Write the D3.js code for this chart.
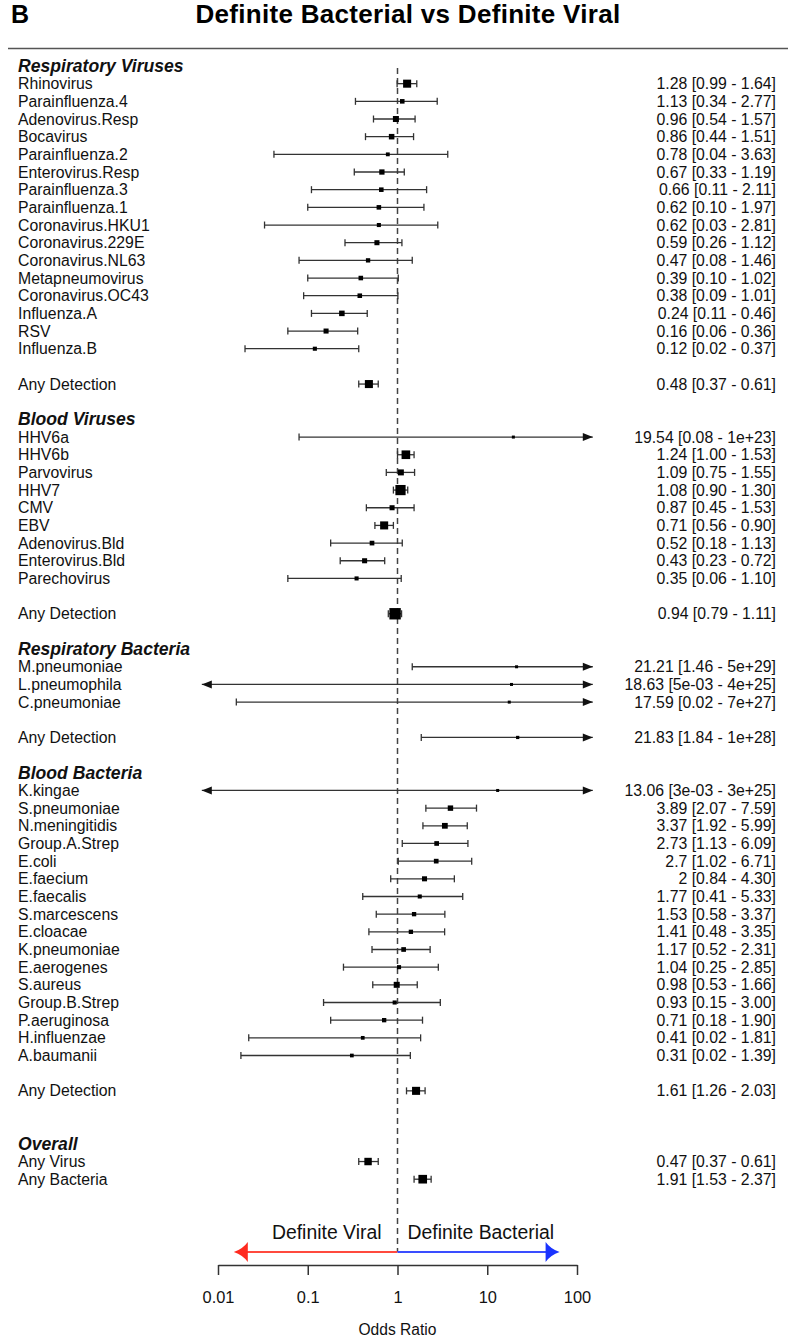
<!DOCTYPE html>
<html>
<head>
<meta charset="utf-8">
<script src="https://cdn.jsdelivr.net/npm/d3@7"></script>
<style>
  body { margin: 0; background: #fff; }
  svg { display: block; font-family: "Liberation Sans", Arial, Helvetica, sans-serif; }
</style>
</head>
<body>
<script>
// Section headers, in plotting order
const groupNames = ["Respiratory Viruses", "Blood Viruses", "Respiratory Bacteria", "Blood Bacteria", "Overall"];

// One entry per plotted row
const rowLabels = [
  "Rhinovirus", "Parainfluenza.4", "Adenovirus.Resp", "Bocavirus", "Parainfluenza.2", "Enterovirus.Resp",
  "Parainfluenza.3", "Parainfluenza.1", "Coronavirus.HKU1", "Coronavirus.229E", "Coronavirus.NL63",
  "Metapneumovirus", "Coronavirus.OC43", "Influenza.A", "RSV", "Influenza.B", "Any Detection",
  "HHV6a", "HHV6b", "Parvovirus", "HHV7", "CMV", "EBV", "Adenovirus.Bld", "Enterovirus.Bld", "Parechovirus", "Any Detection",
  "M.pneumoniae", "L.pneumophila", "C.pneumoniae", "Any Detection",
  "K.kingae", "S.pneumoniae", "N.meningitidis", "Group.A.Strep", "E.coli", "E.faecium", "E.faecalis",
  "S.marcescens", "E.cloacae", "K.pneumoniae", "E.aerogenes", "S.aureus", "Group.B.Strep", "P.aeruginosa",
  "H.influenzae", "A.baumanii", "Any Detection",
  "Any Virus", "Any Bacteria"
];
const rowGroup = [
  0,0,0,0,0,0,0,0,0,0,0,0,0,0,0,0,0,
  1,1,1,1,1,1,1,1,1,1,
  2,2,2,2,
  3,3,3,3,3,3,3,3,3,3,3,3,3,3,3,3,3,
  4,4
];
const oddsRatio = [
  1.28, 1.13, 0.96, 0.86, 0.78, 0.67, 0.66, 0.62, 0.62, 0.59, 0.47, 0.39, 0.38, 0.24, 0.16, 0.12, 0.48,
  19.54, 1.24, 1.09, 1.08, 0.87, 0.71, 0.52, 0.43, 0.35, 0.94,
  21.21, 18.63, 17.59, 21.83,
  13.06, 3.89, 3.37, 2.73, 2.7, 2, 1.77, 1.53, 1.41, 1.17, 1.04, 0.98, 0.93, 0.71, 0.41, 0.31, 1.61,
  0.47, 1.91
];
const ciLower = [
  0.99, 0.34, 0.54, 0.44, 0.042, 0.33, 0.11, 0.10, 0.033, 0.26, 0.08, 0.10, 0.09, 0.11, 0.06, 0.02, 0.37,
  0.08, 1.00, 0.75, 0.90, 0.45, 0.56, 0.18, 0.23, 0.06, 0.79,
  1.46, 5e-3, 0.016, 1.84,
  3e-3, 2.07, 1.92, 1.13, 1.02, 0.84, 0.41, 0.58, 0.48, 0.52, 0.25, 0.53, 0.15, 0.18, 0.022, 0.018, 1.26,
  0.37, 1.53
];
const ciUpper = [
  1.64, 2.77, 1.57, 1.51, 3.63, 1.19, 2.11, 1.97, 2.81, 1.12, 1.46, 1.02, 1.01, 0.46, 0.36, 0.37, 0.61,
  1e23, 1.53, 1.55, 1.30, 1.53, 0.90, 1.13, 0.72, 1.10, 1.11,
  5e29, 4e25, 7e27, 1e28,
  3e25, 7.59, 5.99, 6.09, 6.71, 4.30, 5.33, 3.37, 3.35, 2.31, 2.85, 1.66, 3.00, 1.90, 1.81, 1.39, 2.03,
  0.61, 2.37
];
const ciText = [
  "1.28 [0.99 - 1.64]", "1.13 [0.34 - 2.77]", "0.96 [0.54 - 1.57]", "0.86 [0.44 - 1.51]", "0.78 [0.04 - 3.63]",
  "0.67 [0.33 - 1.19]", "0.66 [0.11 - 2.11]", "0.62 [0.10 - 1.97]", "0.62 [0.03 - 2.81]", "0.59 [0.26 - 1.12]",
  "0.47 [0.08 - 1.46]", "0.39 [0.10 - 1.02]", "0.38 [0.09 - 1.01]", "0.24 [0.11 - 0.46]", "0.16 [0.06 - 0.36]",
  "0.12 [0.02 - 0.37]", "0.48 [0.37 - 0.61]",
  "19.54 [0.08 - 1e+23]", "1.24 [1.00 - 1.53]", "1.09 [0.75 - 1.55]", "1.08 [0.90 - 1.30]", "0.87 [0.45 - 1.53]",
  "0.71 [0.56 - 0.90]", "0.52 [0.18 - 1.13]", "0.43 [0.23 - 0.72]", "0.35 [0.06 - 1.10]", "0.94 [0.79 - 1.11]",
  "21.21 [1.46 - 5e+29]", "18.63 [5e-03 - 4e+25]", "17.59 [0.02 - 7e+27]", "21.83 [1.84 - 1e+28]",
  "13.06 [3e-03 - 3e+25]", "3.89 [2.07 - 7.59]", "3.37 [1.92 - 5.99]", "2.73 [1.13 - 6.09]", "2.7 [1.02 - 6.71]",
  "2 [0.84 - 4.30]", "1.77 [0.41 - 5.33]", "1.53 [0.58 - 3.37]", "1.41 [0.48 - 3.35]", "1.17 [0.52 - 2.31]",
  "1.04 [0.25 - 2.85]", "0.98 [0.53 - 1.66]", "0.93 [0.15 - 3.00]", "0.71 [0.18 - 1.90]", "0.41 [0.02 - 1.81]",
  "0.31 [0.02 - 1.39]", "1.61 [1.26 - 2.03]",
  "0.47 [0.37 - 0.61]", "1.91 [1.53 - 2.37]"
];
// relative box weight (precision)
const boxWeight = [
  0.67, 0.38, 0.50, 0.46, 0.32, 0.44, 0.38, 0.38, 0.34, 0.42, 0.36, 0.38, 0.38, 0.46, 0.42, 0.34, 0.67,
  0.25, 0.72, 0.50, 0.85, 0.42, 0.67, 0.39, 0.42, 0.34, 0.95,
  0.25, 0.25, 0.25, 0.27,
  0.25, 0.45, 0.48, 0.39, 0.39, 0.42, 0.34, 0.36, 0.36, 0.39, 0.34, 0.50, 0.34, 0.36, 0.31, 0.31, 0.67,
  0.62, 0.72
];

// plotting limits (beyond these the CI gets an arrow)
const clipLo = 0.0066, clipHi = 150;
const axisTicks = [0.01, 0.1, 1, 10, 100];
const favourLeft = 0.015, favourRight = 64;

const W = 793, H = 1342;
const svg = d3.select("body").append("svg").attr("width", W).attr("height", H);

const x = d3.scaleLog().domain([0.01, 100]).range([218, 577]);
const box = d3.scaleLinear().domain([0, 1]).range([0, 12]);

// lay out rows: header, items, gap before "Any Detection", gaps between groups
const rows = [];
let r = 0, prev = -1;
rowLabels.forEach((lab, i) => {
  const g = rowGroup[i];
  if (g !== prev) {
    if (prev >= 0) r += groupNames[g] === "Overall" ? 3 : 2;
    rows.push({ header: true, label: groupNames[g], r });
    prev = g;
    r += 1;
  } else {
    r += lab === "Any Detection" ? 2 : 1;
  }
  rows.push({ header: false, label: lab, r, or: oddsRatio[i], lo: ciLower[i], hi: ciUpper[i],
              txt: ciText[i], w: boxWeight[i] });
});
const y = d3.scaleLinear().domain([0, 63]).range([66, 1179.2]);

// title
svg.append("text").attr("x", 11).attr("y", 23)
  .style("font-size", "25px").style("font-weight", "bold").text("B");
svg.append("text").attr("x", 408).attr("y", 23).attr("text-anchor", "middle")
  .style("font-size", "26px").style("font-weight", "bold").style("letter-spacing", "0.3px")
  .text("Definite Bacterial vs Definite Viral");
svg.append("line").attr("x1", 8).attr("x2", 788).attr("y1", 48.5).attr("y2", 48.5)
  .attr("stroke", "#555").attr("stroke-width", 1.5);

// reference line at OR = 1
svg.append("line").attr("x1", x(1)).attr("x2", x(1)).attr("y1", 68).attr("y2", 1252)
  .attr("stroke", "#444").attr("stroke-width", 1.5).attr("stroke-dasharray", "6,4");

// labels
svg.selectAll(".lab").data(rows).enter().append("text")
  .attr("x", 18).attr("y", d => y(d.r) + (d.header ? 6 : 5.6))
  .style("font-size", d => d.header ? "17.6px" : "15.8px")
  .style("font-weight", d => d.header ? "bold" : "normal")
  .style("font-style", d => d.header ? "italic" : "normal")
  .attr("fill", "#111")
  .text(d => d.label);

const items = rows.filter(d => !d.header);

svg.selectAll(".val").data(items).enter().append("text")
  .attr("x", 776).attr("y", d => y(d.r) + 5.6).attr("text-anchor", "end")
  .style("font-size", "15.8px").attr("fill", "#111")
  .text(d => d.txt);

// confidence intervals
const ci = svg.append("g").attr("stroke", "#333").attr("stroke-width", 1.3);
items.forEach(d => {
  const cy = y(d.r);
  const x0 = x(Math.max(d.lo, clipLo)), x1 = x(Math.min(d.hi, clipHi));
  ci.append("line").attr("x1", x0).attr("x2", x1).attr("y1", cy).attr("y2", cy);
  if (d.lo < clipLo) {
    svg.append("path").attr("d", `M${x0},${cy}L${x0 + 10},${cy - 4}L${x0 + 10},${cy + 4}Z`).attr("fill", "#111");
  } else {
    ci.append("line").attr("x1", x0).attr("x2", x0).attr("y1", cy - 3.5).attr("y2", cy + 3.5);
  }
  if (d.hi > clipHi) {
    svg.append("path").attr("d", `M${x1},${cy}L${x1 - 10},${cy - 4}L${x1 - 10},${cy + 4}Z`).attr("fill", "#111");
  } else {
    ci.append("line").attr("x1", x1).attr("x2", x1).attr("y1", cy - 3.5).attr("y2", cy + 3.5);
  }
});

// point estimates
svg.selectAll(".box").data(items).enter().append("rect")
  .attr("x", d => x(d.or) - box(d.w) / 2)
  .attr("y", d => y(d.r) - box(d.w) / 2)
  .attr("width", d => box(d.w)).attr("height", d => box(d.w))
  .attr("fill", "#000");

// favours arrows
const ay = 1252;
const xl = x(favourLeft), xr = x(favourRight);
svg.append("line").attr("x1", x(1)).attr("x2", xl + 12).attr("y1", ay).attr("y2", ay)
  .attr("stroke", "#ff4a3d").attr("stroke-width", 2);
svg.append("path")
  .attr("d", `M${xl},${ay}Q${xl + 9},${ay - 3} ${xl + 14},${ay - 10}L${xl + 14},${ay + 10}Q${xl + 9},${ay + 3} ${xl},${ay}Z`)
  .attr("fill", "#ff2a1f");
svg.append("line").attr("x1", x(1)).attr("x2", xr - 12).attr("y1", ay).attr("y2", ay)
  .attr("stroke", "#3a4dff").attr("stroke-width", 2);
svg.append("path")
  .attr("d", `M${xr},${ay}Q${xr - 9},${ay - 3} ${xr - 14},${ay - 10}L${xr - 14},${ay + 10}Q${xr - 9},${ay + 3} ${xr},${ay}Z`)
  .attr("fill", "#1a33ff");

svg.append("text").attr("x", x(1) - 16).attr("y", 1239).attr("text-anchor", "end")
  .style("font-size", "19.4px").attr("fill", "#111").text("Definite Viral");
svg.append("text").attr("x", x(1) + 10).attr("y", 1239)
  .style("font-size", "19.4px").attr("fill", "#111").text("Definite Bacterial");

// x axis
const gx = svg.append("g").attr("transform", "translate(0,1265)")
  .call(d3.axisBottom(x).tickValues(axisTicks).tickFormat(d => String(d)).tickSize(10).tickSizeOuter(0));
gx.select(".domain").attr("stroke", "#333").attr("stroke-width", 1.5);
gx.selectAll(".tick line").attr("stroke", "#333").attr("stroke-width", 1.5);
gx.selectAll(".tick text").attr("y", 38).attr("dy", 0)
  .style("font-size", "16.4px").attr("fill", "#111")
  .style("font-family", "\"Liberation Sans\", Arial, sans-serif");

svg.append("text").attr("x", x(1)).attr("y", 1335).attr("text-anchor", "middle")
  .style("font-size", "15.6px").attr("fill", "#111").text("Odds Ratio");
</script>
</body>
</html>
